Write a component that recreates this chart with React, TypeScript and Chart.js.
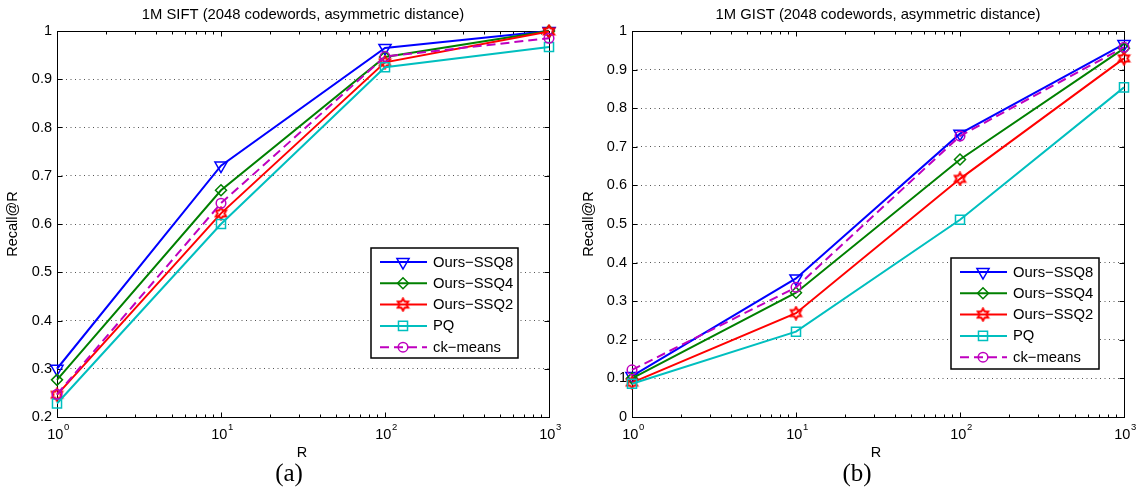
import React, { useEffect, useRef } from 'react';
import { Chart, registerables } from 'chart.js';
import { drawPoint } from 'chart.js/helpers';

Chart.register(...registerables);

// ---------- data ----------
const R_VALUES = [1, 10, 100, 1000];
const X_TICK_BASE = '10';
const X_TICK_EXPONENTS = ['0', '1', '2', '3'];
const X_MINOR_TICKS = [2, 3, 4, 5, 6, 7, 8, 9, 20, 30, 40, 50, 60, 70, 80, 90, 200, 300, 400, 500, 600, 700, 800, 900];
const SERIES_LABELS = ['Ours−SSQ8', 'Ours−SSQ4', 'Ours−SSQ2', 'PQ', 'ck−means'];

const SIFT_SSQ8 = [0.300, 0.721, 0.965, 1.000];
const SIFT_SSQ4 = [0.277, 0.670, 0.946, 1.000];
const SIFT_SSQ2 = [0.246, 0.622, 0.935, 0.999];
const SIFT_PQ = [0.228, 0.600, 0.925, 0.967];
const SIFT_CKMEANS = [0.247, 0.643, 0.947, 0.985];
const SIFT_Y_TICKS = [0.2, 0.3, 0.4, 0.5, 0.6, 0.7, 0.8, 0.9, 1];

const GIST_SSQ8 = [0.106, 0.359, 0.734, 0.966];
const GIST_SSQ4 = [0.100, 0.322, 0.667, 0.955];
const GIST_SSQ2 = [0.089, 0.269, 0.617, 0.929];
const GIST_PQ = [0.086, 0.221, 0.511, 0.854];
const GIST_CKMEANS = [0.122, 0.336, 0.728, 0.958];
const GIST_Y_TICKS = [0, 0.1, 0.2, 0.3, 0.4, 0.5, 0.6, 0.7, 0.8, 0.9, 1];

const SIFT_TITLE = '1M SIFT (2048 codewords, asymmetric distance)';
const GIST_TITLE = '1M GIST (2048 codewords, asymmetric distance)';
const X_TITLE = 'R';
const Y_TITLE = 'Recall@R';

// ---------- styles ----------
const SANS = '"Liberation Sans", Arial, Helvetica, sans-serif';
const SERIF = '"Liberation Serif", "DejaVu Serif", serif';

function makeHexagram(color: string): HTMLCanvasElement {
  const c = document.createElement('canvas');
  c.width = 15;
  c.height = 15;
  const g = c.getContext('2d')!;
  const cx = 7.5, cy = 7.5, ro = 6, ri = 6 / Math.sqrt(3);
  g.beginPath();
  for (let k = 0; k < 12; k++) {
    const ang = -Math.PI / 2 + (k * Math.PI) / 6;
    const r = k % 2 === 0 ? ro : ri;
    const px = cx + r * Math.cos(ang);
    const py = cy + r * Math.sin(ang);
    if (k === 0) g.moveTo(px, py); else g.lineTo(px, py);
  }
  g.closePath();
  g.strokeStyle = color;
  g.lineWidth = 2;
  g.stroke();
  return c;
}

type SeriesStyle = { color: string; pointStyle: any; radius: number; rotation: number; dash: number[] };
function seriesStyles(): SeriesStyle[] {
  return [
    { color: '#0000ff', pointStyle: 'triangle', radius: 7, rotation: 180, dash: [] },
    { color: '#008000', pointStyle: 'rectRot', radius: 5.5, rotation: 0, dash: [] },
    { color: '#ff0000', pointStyle: makeHexagram('#ff0000'), radius: 6, rotation: 0, dash: [] },
    { color: '#00bfbf', pointStyle: 'rect', radius: 6.4, rotation: 0, dash: [] },
    { color: '#bf00bf', pointStyle: 'circle', radius: 4.8, rotation: 0, dash: [9, 5] },
  ];
}

type PanelCfg = {
  title: string;
  caption: string;
  series: number[][];
  yTicks: number[];
  yWidth: number;
  padRight: number;
  legendBox: { left: number; top: number; width: number; height: number };
  yTitleX: number;
  xTitleX: number;
  captionX: number;
  captionY: number;
};

function makeDecorPlugin(cfg: PanelCfg, styles: SeriesStyle[]) {
  return {
    id: 'decor',
    beforeDatasetsDraw(chart: any) {
      const { ctx, chartArea: a, scales } = chart;
      const x = scales.x, y = scales.y;
      ctx.save();
      ctx.strokeStyle = '#000';
      ctx.lineWidth = 1;
      ctx.setLineDash([]);
      ctx.beginPath();
      const L = Math.round(a.left) + 0.5, R = Math.round(a.right) + 0.5;
      const T = Math.round(a.top) + 0.5, B = Math.round(a.bottom) + 0.5;
      for (const v of cfg.yTicks) {
        const py = Math.round(y.getPixelForValue(v)) + 0.5;
        ctx.moveTo(L, py); ctx.lineTo(L + 5, py);
        ctx.moveTo(R, py); ctx.lineTo(R - 5, py);
      }
      for (const v of R_VALUES) {
        const px = Math.round(x.getPixelForValue(v)) + 0.5;
        ctx.moveTo(px, B); ctx.lineTo(px, B - 5);
        ctx.moveTo(px, T); ctx.lineTo(px, T + 5);
      }
      for (const v of X_MINOR_TICKS) {
        const px = Math.round(x.getPixelForValue(v)) + 0.5;
        ctx.moveTo(px, B); ctx.lineTo(px, B - 3);
        ctx.moveTo(px, T); ctx.lineTo(px, T + 3);
      }
      ctx.stroke();
      ctx.strokeRect(L, T, R - L, B - T);

      // x tick labels: 10 with raised exponent, placed by the log scale
      ctx.fillStyle = '#000';
      ctx.textBaseline = 'alphabetic';
      R_VALUES.forEach((v, i) => {
        const px = x.getPixelForValue(v);
        ctx.font = `14.5px ${SANS}`;
        const wb = ctx.measureText(X_TICK_BASE).width;
        ctx.font = `9.5px ${SANS}`;
        const we = ctx.measureText(X_TICK_EXPONENTS[i]).width;
        const start = px - (wb + we) / 2 + 1;
        ctx.font = `14.5px ${SANS}`;
        ctx.textAlign = 'left';
        ctx.fillText(X_TICK_BASE, start, a.bottom + 22);
        ctx.font = `9.5px ${SANS}`;
        ctx.fillText(X_TICK_EXPONENTS[i], start + wb + 0.5, a.bottom + 13);
      });
      ctx.restore();
    },
    afterDatasetsDraw(chart: any) {
      const { ctx } = chart;
      const lb = cfg.legendBox;
      ctx.save();
      ctx.fillStyle = '#fff';
      ctx.fillRect(lb.left, lb.top, lb.width, lb.height);
      ctx.strokeStyle = '#000';
      ctx.lineWidth = 1.5;
      ctx.setLineDash([]);
      ctx.strokeRect(lb.left, lb.top, lb.width, lb.height);
      SERIES_LABELS.forEach((label, i) => {
        const st = styles[i];
        const ry = lb.top + 14 + i * 21.3;
        const x0 = lb.left + 9, x1 = lb.left + 56, xm = lb.left + 32;
        ctx.strokeStyle = st.color;
        ctx.lineWidth = 2;
        ctx.setLineDash(st.dash);
        ctx.beginPath();
        ctx.moveTo(x0, ry);
        ctx.lineTo(x1, ry);
        ctx.stroke();
        ctx.setLineDash([]);
        ctx.lineWidth = 1.5;
        ctx.strokeStyle = st.color;
        ctx.fillStyle = 'rgba(0,0,0,0)';
        drawPoint(ctx, { pointStyle: st.pointStyle, rotation: st.rotation, radius: st.radius, borderWidth: 1.5 } as any, xm, ry);
        ctx.fillStyle = '#000';
        ctx.font = `14.8px ${SANS}`;
        ctx.textAlign = 'left';
        ctx.textBaseline = 'middle';
        ctx.fillText(label, lb.left + 62, ry + 0.5);
      });
      ctx.restore();
    },
    afterDraw(chart: any) {
      const { ctx, chartArea: a } = chart;
      ctx.save();
      ctx.fillStyle = '#000';
      ctx.textAlign = 'center';
      ctx.textBaseline = 'middle';
      ctx.font = `14.8px ${SANS}`;
      ctx.fillText(cfg.title, (a.left + a.right) / 2, 15);
      ctx.font = `14.5px ${SANS}`;
      ctx.fillText(X_TITLE, cfg.xTitleX, 453);
      ctx.save();
      ctx.translate(cfg.yTitleX, (a.top + a.bottom) / 2);
      ctx.rotate(-Math.PI / 2);
      ctx.fillText(Y_TITLE, 0, 0);
      ctx.restore();
      ctx.font = `25px ${SERIF}`;
      ctx.fillText(cfg.caption, cfg.captionX, cfg.captionY);
      ctx.restore();
    },
  };
}

function Panel({ cfg }: { cfg: PanelCfg }) {
  const ref = useRef<HTMLCanvasElement | null>(null);
  useEffect(() => {
    if (!ref.current) return;
    const styles = seriesStyles();
    const datasets = cfg.series.map((vals, i) => {
      const st = styles[i];
      return {
        label: SERIES_LABELS[i],
        data: R_VALUES.map((r, j) => ({ x: r, y: vals[j] })),
        borderColor: st.color,
        backgroundColor: 'rgba(0,0,0,0)',
        borderWidth: 2,
        borderDash: st.dash,
        tension: 0,
        fill: false,
        pointStyle: st.pointStyle,
        pointRadius: st.radius,
        pointRotation: st.rotation,
        pointBorderColor: st.color,
        pointBackgroundColor: 'rgba(0,0,0,0)',
        pointBorderWidth: 1.5,
        clip: false as any,
        order: SERIES_LABELS.length - i,
      };
    });
    const chart = new Chart(ref.current, {
      type: 'line',
      data: { datasets },
      options: {
        responsive: false,
        animation: false,
        layout: { padding: { top: 31, right: cfg.padRight, bottom: 0, left: 0 } },
        plugins: {
          legend: { display: false },
          tooltip: { enabled: false },
          title: { display: false },
        },
        scales: {
          x: {
            type: 'logarithmic',
            min: 1,
            max: 1000,
            grid: { display: false },
            border: { display: false },
            afterBuildTicks: (s: any) => {
              s.ticks = R_VALUES.map((v) => ({ value: v, major: true }));
            },
            afterFit: (s: any) => {
              s.height = 72;
            },
            ticks: {
              display: false,
              autoSkip: false,
              maxRotation: 0,
              minRotation: 0,
            },
          },
          y: {
            type: 'linear',
            min: cfg.yTicks[0],
            max: cfg.yTicks[cfg.yTicks.length - 1],
            afterBuildTicks: (s: any) => {
              s.ticks = cfg.yTicks.map((v) => ({ value: v }));
            },
            afterFit: (s: any) => {
              s.width = cfg.yWidth;
            },
            grid: { color: '#555', lineWidth: 1, drawTicks: false },
            border: { display: false, dash: [1, 3.5] },
            ticks: {
              padding: 5,
              color: '#000',
              font: { family: SANS, size: 14.5 },
              callback: (v: any) => String(v),
            },
          },
        },
      } as any,
      plugins: [makeDecorPlugin(cfg, styles)],
    });
    return () => chart.destroy();
  }, [cfg]);
  return <canvas ref={ref} width={573} height={489} style={{ display: 'block', width: 573, height: 489 }} />;
}

const SIFT_CFG: PanelCfg = {
  title: SIFT_TITLE,
  caption: '(a)',
  series: [SIFT_SSQ8, SIFT_SSQ4, SIFT_SSQ2, SIFT_PQ, SIFT_CKMEANS],
  yTicks: SIFT_Y_TICKS,
  yWidth: 57,
  padRight: 24,
  legendBox: { left: 371, top: 248, width: 147, height: 110 },
  yTitleX: 13,
  xTitleX: 302,
  captionX: 289,
  captionY: 474,
};

const GIST_CFG: PanelCfg = {
  title: GIST_TITLE,
  caption: '(b)',
  series: [GIST_SSQ8, GIST_SSQ4, GIST_SSQ2, GIST_PQ, GIST_CKMEANS],
  yTicks: GIST_Y_TICKS,
  yWidth: 59,
  padRight: 22,
  legendBox: { left: 378, top: 258, width: 148, height: 111 },
  yTitleX: 16,
  xTitleX: 303,
  captionX: 284,
  captionY: 474,
};

export default function App() {
  return (
    <div style={{ position: 'absolute', left: 0, top: 0, width: 1146, height: 489, background: '#fff', display: 'flex' }}>
      <Panel cfg={SIFT_CFG} />
      <Panel cfg={GIST_CFG} />
    </div>
  );
}
